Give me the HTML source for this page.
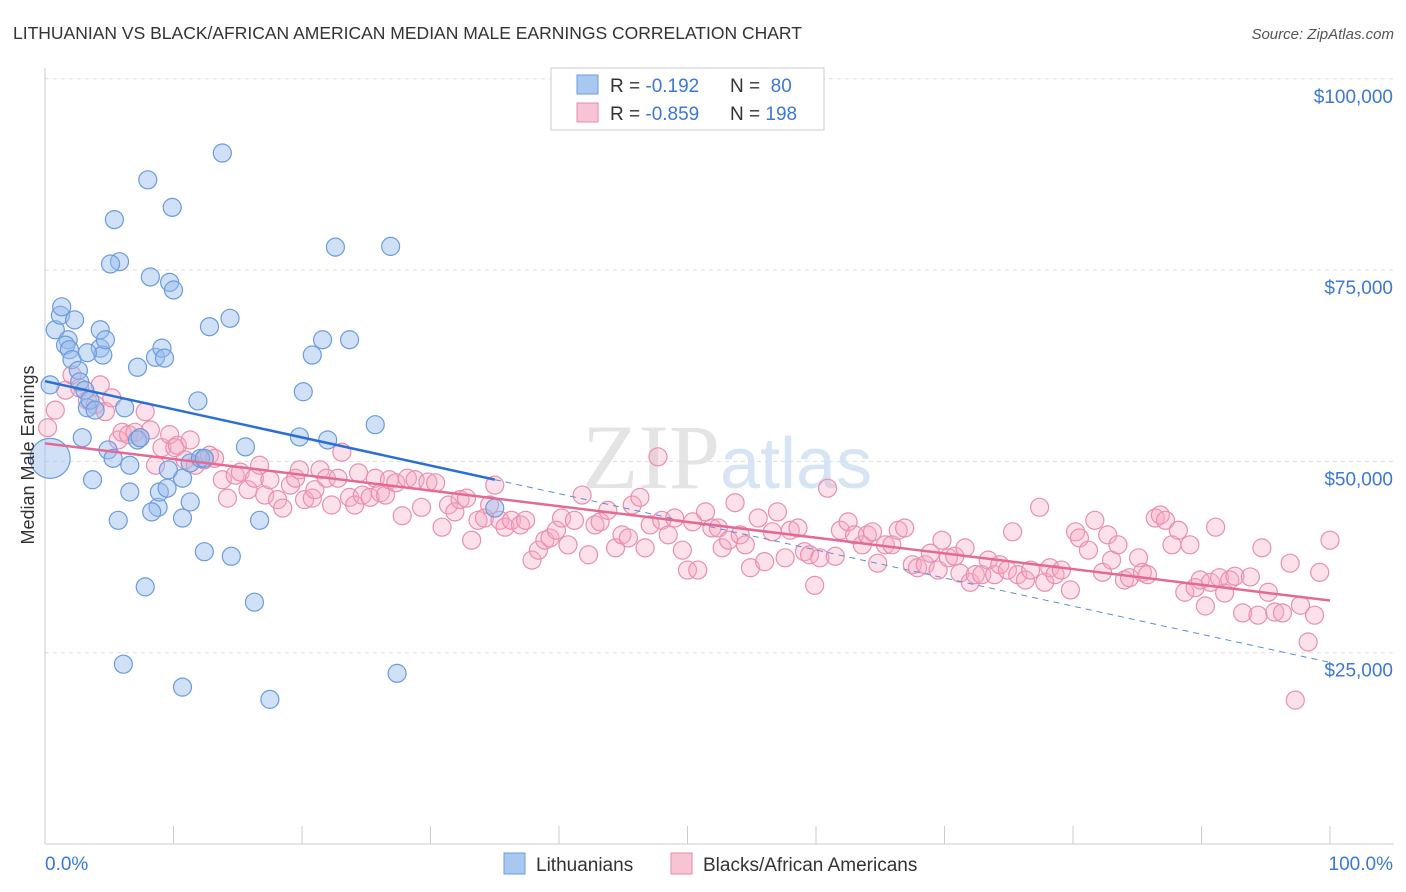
<!DOCTYPE html>
<html><head><meta charset="utf-8">
<style>
body{margin:0;background:#fff;font-family:"Liberation Sans",sans-serif;}
svg{display:block}
</style></head>
<body>
<svg id="chart" width="1406" height="892">
<text x="13" y="39" font-size="17.5" fill="#333">LITHUANIAN VS BLACK/AFRICAN AMERICAN MEDIAN MALE EARNINGS CORRELATION CHART</text>
<text x="1394" y="39" font-size="15" fill="#555" font-style="italic" text-anchor="end">Source: ZipAtlas.com</text>
<text x="720" y="488" font-size="92" fill="#e4e4e4" text-anchor="end" font-family="Liberation Serif,serif">ZIP</text>
<text x="720" y="488" font-size="72" fill="#d6e4f5">atlas</text>
<g id="grid"></g>
<g id="axes"></g>
<g id="pts"></g>
<g id="lines"></g>
<text transform="translate(34,455) rotate(-90)" font-size="18" fill="#333" text-anchor="middle">Median Male Earnings</text>
<g>
<rect x="551" y="68" width="273" height="62" fill="#fff" stroke="#ccc"/>
<rect x="577" y="75" width="21" height="19" fill="#a9c8f0" stroke="#6a9be0"/>
<rect x="577" y="103" width="21" height="19" fill="#f8c4d4" stroke="#e889a8"/>
<text x="610" y="92" font-size="19" fill="#333">R = <tspan fill="#3b78d8">-0.192</tspan><tspan x="730">N = </tspan><tspan fill="#3b78d8">&#160;80</tspan></text>
<text x="610" y="120" font-size="19" fill="#333">R = <tspan fill="#3b78d8">-0.859</tspan><tspan x="730">N = </tspan><tspan fill="#3b78d8">198</tspan></text>
</g>
<g>
<rect x="504" y="853" width="21" height="21" fill="#a9c8f0" stroke="#6a9be0"/>
<text x="536" y="871" font-size="19" fill="#333">Lithuanians</text>
<rect x="671" y="853" width="21" height="21" fill="#f8c4d4" stroke="#e889a8"/>
<text x="703" y="871" font-size="19" fill="#333">Blacks/African Americans</text>
</g>
</svg>
<script>
const yTicks=[25000,50000,75000,100000];
const yTickLabels=["$25,000","$50,000","$75,000","$100,000"];
const xEndLabels=["0.0%","100.0%"];
const blueX=[0.4,0.4,0.8,1.2,1.3,1.8,1.6,1.9,2.3,2.1,2.6,2.7,3.1,3.3,3.5,4.3,4.3,4.5,4.7,2.9,3.7,4.9,5.3,5.7,5.4,5.8,5.1,6.2,6.6,6.6,7.2,7.2,8.0,8.2,8.6,8.8,8.9,9.1,9.3,9.5,9.7,9.9,10.0,8.3,7.8,10.7,10.7,11.3,11.3,11.9,12.4,12.8,13.8,14.4,14.5,15.6,16.3,16.7,6.1,10.7,17.5,20.1,20.8,19.8,21.6,22.0,22.6,23.7,25.7,26.9,27.4,35.0,3.3,3.9,7.4,9.6,12.1,12.4];
const blueY=[50.4,60.0,67.2,69.1,70.2,65.9,65.2,64.6,68.5,63.3,61.9,60.4,59.3,57.0,58.0,67.2,64.8,63.9,65.9,53.1,47.6,51.5,50.4,42.3,81.6,76.1,75.8,57.0,49.5,46.0,52.8,62.3,86.8,74.1,63.6,44.0,46.0,64.8,63.5,46.5,73.4,83.2,72.4,43.4,33.6,42.6,47.8,49.8,44.7,57.9,38.2,67.6,90.3,68.7,37.6,51.9,31.6,42.3,23.5,20.5,18.9,59.1,63.9,53.2,65.9,52.8,78.0,65.9,54.8,78.1,22.3,43.9,64.2,56.7,53.1,48.9,50.4,50.4];
const pinkX=[0.2,0.8,1.6,2.1,2.7,3.3,3.9,4.3,4.7,5.2,5.7,6.0,6.5,7.0,7.4,7.8,8.2,8.6,9.1,9.7,10.1,10.3,10.9,11.3,11.7,12.4,12.8,13.2,13.8,14.2,14.8,15.2,15.8,16.3,16.7,17.1,17.5,18.1,18.5,19.1,19.5,19.8,20.2,20.8,21.0,21.4,21.9,22.3,22.8,23.1,23.7,24.1,24.4,24.7,25.3,25.7,26.1,26.5,26.8,27.3,27.8,28.2,28.8,29.3,29.8,30.4,30.9,31.4,31.9,32.3,32.8,33.2,33.7,34.2,34.6,35.0,35.4,35.8,36.3,37.0,37.4,37.9,38.4,38.9,39.3,39.8,40.2,40.7,41.2,41.8,42.3,42.8,43.2,43.8,44.4,44.9,45.4,45.7,46.3,46.7,47.1,47.7,48.0,48.5,49.0,49.6,50.0,50.4,50.8,51.4,51.9,52.4,52.7,53.2,53.7,54.1,54.5,54.9,55.5,56.0,56.6,57.0,57.6,58.0,58.6,59.1,59.5,59.9,60.3,60.9,61.5,61.9,62.5,63.0,63.6,64.0,64.4,64.8,65.4,65.9,66.4,66.9,67.5,67.9,68.5,68.9,69.5,69.8,70.3,70.8,71.2,71.6,72.0,72.4,72.9,73.4,73.9,74.3,74.9,75.3,75.7,76.3,76.7,77.4,77.8,78.2,78.6,79.1,79.8,80.2,80.5,81.2,81.7,82.3,82.7,83.0,83.5,84.0,84.4,85.1,85.4,85.8,86.4,86.8,87.2,87.7,88.2,88.7,89.1,89.5,89.9,90.3,90.7,91.1,91.4,91.8,92.2,92.6,93.2,93.8,94.4,94.7,95.2,95.7,96.3,96.9,97.3,97.7,98.3,98.8,99.2,100.0];
const pinkY=[54.4,56.7,59.3,61.3,59.6,58.0,57.4,60.0,56.5,58.3,52.8,53.8,53.5,53.8,53.1,56.5,54.1,49.5,51.8,53.5,51.8,52.1,50.2,52.8,49.5,50.2,50.8,50.4,47.6,45.2,48.2,48.6,46.3,47.8,49.5,45.6,47.6,45.0,43.9,46.9,47.8,48.9,45.0,45.2,46.3,48.9,47.8,44.3,47.8,51.2,45.3,44.3,48.5,45.6,45.3,47.8,45.9,45.6,47.6,47.2,42.9,47.8,47.6,44.0,47.3,47.2,41.4,44.3,43.4,45.0,45.2,39.7,42.3,42.6,44.3,46.9,42.3,41.4,42.3,41.7,42.3,37.1,38.4,39.7,40.0,41.0,42.6,39.1,42.3,45.6,37.8,41.7,42.1,43.6,38.7,40.4,40.0,44.3,45.3,38.7,41.7,50.6,42.3,40.4,42.6,38.4,35.8,42.1,35.8,43.4,41.3,41.3,38.7,39.7,44.6,40.4,39.1,36.1,42.6,36.9,40.8,43.4,37.4,41.0,41.3,38.2,37.8,33.8,37.4,46.5,37.6,41.0,42.1,40.4,39.1,40.4,40.8,36.7,39.1,39.1,41.0,41.3,36.5,36.1,36.5,38.0,35.8,39.7,37.4,37.6,35.4,38.7,34.2,35.2,35.2,37.1,35.2,36.5,35.8,40.8,35.2,34.5,35.8,44.0,34.2,36.1,35.2,35.8,33.2,40.8,40.0,38.4,42.3,35.5,40.4,37.1,39.1,34.5,34.8,37.4,35.5,35.2,42.6,43.0,42.3,39.1,41.0,32.9,39.1,33.5,34.5,31.1,34.2,41.4,34.8,32.8,34.5,35.0,30.2,34.9,29.9,38.7,32.9,30.3,30.2,36.7,18.8,31.2,26.4,29.9,35.5,39.7];

const NS="http://www.w3.org/2000/svg";
const X0=45,X1=1330,YB=844,PX25=191.3;
const sx=p=>X0+(X1-X0)*p/100;
const sy=k=>YB-k/25*PX25;
function mk(tag,attrs,parent){const e=document.createElementNS(NS,tag);for(const k in attrs)e.setAttribute(k,attrs[k]);document.getElementById(parent).appendChild(e);return e;}

yTicks.forEach((v,i)=>{
  const g=mk('line',{x1:X0,x2:1394,y1:sy(v/1000),y2:sy(v/1000),stroke:'#ddd','stroke-dasharray':'4,4'},'grid');
  
  
  const t=mk('text',{x:1393,y:sy(v/1000)+24,'font-size':19,fill:'#3b78d8','text-anchor':'end'},'axes');
  t.textContent=yTickLabels[i];
  
  
});
const ax=mk('line',{x1:X0,x2:X0,y1:68,y2:YB,stroke:'#ccc'},'axes');


const bx=mk('line',{x1:X0,x2:1394,y1:YB,y2:YB,stroke:'#ccc'},'axes');


for(let i=0;i<=10;i++){
  const tk=mk('line',{x1:sx(i*10),x2:sx(i*10),y1:YB,y2:YB-18,stroke:'#ccc'},'axes');
  
  
}
[[0,'start',45],[1,'end',1393]].forEach(([i,a,x])=>{
  const t=mk('text',{x:x,y:870,'font-size':19,fill:'#3b78d8','text-anchor':a},'axes');
  t.textContent=xEndLabels[i];
  
  
});

pinkX.forEach((x,i)=>{
  const c=mk('circle',{cx:sx(x),cy:sy(pinkY[i]),r:9,fill:'rgba(245,170,195,0.35)',stroke:'#ea8fad','stroke-width':1.2},'pts');
  
  
});
blueX.forEach((x,i)=>{
  const c=mk('circle',{cx:sx(x),cy:sy(blueY[i]),r:i===0?20:9,fill:'rgba(150,188,238,0.45)',stroke:'#6a9be0','stroke-width':1.2},'pts');
  
  
});

function fit(xs,ys){const n=xs.length;let mx=0,my=0;for(let i=0;i<n;i++){mx+=xs[i];my+=ys[i];}mx/=n;my/=n;let sxy=0,sxx=0;for(let i=0;i<n;i++){sxy+=(xs[i]-mx)*(ys[i]-my);sxx+=(xs[i]-mx)**2;}const b=sxy/sxx;return [my-b*mx,b];}
const [ba,bb]=fit(blueX,blueY);
const [pa,pb]=fit(pinkX,pinkY);
const bmax=Math.max(...blueX);
let l=mk('line',{x1:sx(bmax),y1:sy(ba+bb*bmax),x2:sx(100),y2:sy(ba+bb*100),stroke:'#5a8fd8','stroke-width':1,'stroke-dasharray':'6,5'},'lines');


l=mk('line',{x1:sx(0),y1:sy(ba),x2:sx(bmax),y2:sy(ba+bb*bmax),stroke:'#2a6fd6','stroke-width':2.5},'lines');


l=mk('line',{x1:sx(0),y1:sy(pa),x2:sx(100),y2:sy(pa+pb*100),stroke:'#e46a93','stroke-width':2.5},'lines');


</script>
</body></html>
